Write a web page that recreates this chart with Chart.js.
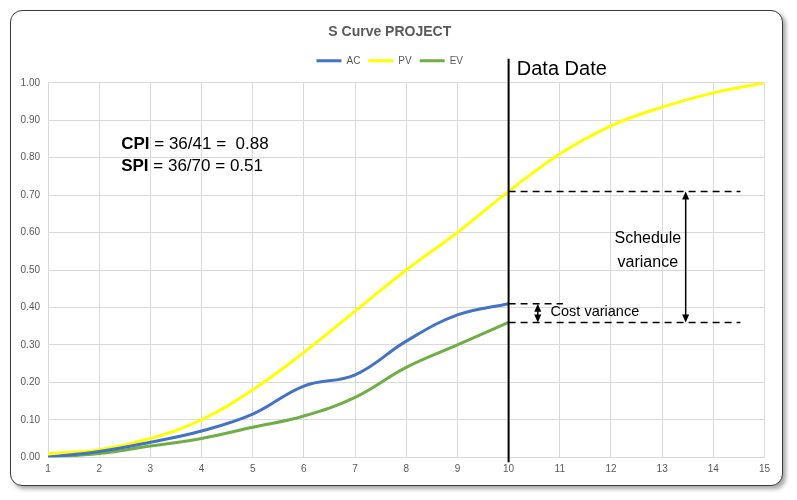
<!DOCTYPE html>
<html>
<head>
<meta charset="utf-8">
<script src="https://cdn.jsdelivr.net/npm/chart.js@4.4.1/dist/chart.umd.min.js"></script>
<style>
  html, body { margin: 0; padding: 0; background: #ffffff; }
  #frame {
    position: absolute; left: 10px; top: 10px; width: 773px; height: 476px;
    box-sizing: border-box; border: 1.5px solid #3a3a3a; border-radius: 12px;
    background: #ffffff; box-shadow: 3px 3px 4px rgba(0,0,0,0.35); overflow: hidden;
  }
  #wrap { position: absolute; left: 0; top: 0; width: 770px; height: 473px; }
</style>
</head>
<body>
<div id="frame"><div id="wrap"><canvas id="c"></canvas></div></div>
<script>
// ---- data ----
const categories = [1, 2, 3, 4, 5, 6, 7, 8, 9, 10, 11, 12, 13, 14, 15];
const acValues = [0.00, 0.015, 0.04, 0.07, 0.115, 0.19, 0.22, 0.31, 0.38, 0.41];
const pvValues = [0.01, 0.02, 0.05, 0.10, 0.18, 0.28, 0.39, 0.50, 0.60, 0.71, 0.81, 0.885, 0.935, 0.973, 1.00];
const evValues = [0.00, 0.01, 0.03, 0.05, 0.08, 0.11, 0.16, 0.24, 0.30, 0.36];
const seriesNames = ['AC', 'PV', 'EV'];
const dataDate = 10;
const cpiText = ['CPI', ' = 36/41 =  0.88'];
const spiText = ['SPI', ' = 36/70 = 0.51'];

const toPoints = (vals) => vals.map((v, i) => ({ x: categories[i], y: v }));
const FONT = "'Liberation Sans', Arial, sans-serif";

const annotations = {
  id: 'annotations',
  afterDatasetsDraw(chart) {
    const { ctx, chartArea } = chart;
    const xs = chart.scales.x, ys = chart.scales.y;
    const X = v => xs.getPixelForValue(v), Y = v => ys.getPixelForValue(v);
    const idx = categories.indexOf(dataDate);
    const pv = pvValues[idx], ac = acValues[idx], ev = evValues[idx];
    ctx.save();
    // Data Date line
    ctx.strokeStyle = '#000'; ctx.lineWidth = 2; ctx.setLineDash([]);
    ctx.beginPath(); ctx.moveTo(X(dataDate), chartArea.bottom + 5); ctx.lineTo(X(dataDate), chartArea.top - 24); ctx.stroke();
    // dashed lines
    ctx.lineWidth = 1.5; ctx.setLineDash([7, 5]);
    const dash = (x1, x2, y) => { ctx.beginPath(); ctx.moveTo(X(x1), Y(y)); ctx.lineTo(X(x2), Y(y)); ctx.stroke(); };
    dash(dataDate, 14.53, pv);
    dash(dataDate, 11.06, ac);
    dash(dataDate, 14.53, ev);
    ctx.setLineDash([]);
    // arrows
    const arrow = (x, y1, y2) => {
      const px = X(x), a = Y(y1), b = Y(y2);
      ctx.lineWidth = 1.5;
      ctx.beginPath(); ctx.moveTo(px, a + 2); ctx.lineTo(px, b - 2); ctx.stroke();
      ctx.fillStyle = '#000';
      ctx.beginPath(); ctx.moveTo(px, a); ctx.lineTo(px - 3.5, a + 8); ctx.lineTo(px + 3.5, a + 8); ctx.closePath(); ctx.fill();
      ctx.beginPath(); ctx.moveTo(px, b); ctx.lineTo(px - 3.5, b - 8); ctx.lineTo(px + 3.5, b - 8); ctx.closePath(); ctx.fill();
    };
    arrow(13.46, pv, ev);
    arrow(10.57, ac, ev);
    // texts
    ctx.fillStyle = '#000'; ctx.textBaseline = 'middle';
    ctx.font = '20px ' + FONT; ctx.textAlign = 'left';
    ctx.fillText('Data Date', X(10.16), Y(1.036));
    ctx.font = '16px ' + FONT; ctx.textAlign = 'center';
    ctx.fillText('Schedule', X(12.72), Y(0.583));
    ctx.fillText('variance', X(12.72), Y(0.521));
    ctx.font = '14.5px ' + FONT; ctx.textAlign = 'left';
    ctx.fillText('Cost variance', X(10.82), Y(0.387));
    const drawIdx = (parts, x, y) => {
      ctx.textAlign = 'left';
      ctx.font = 'bold 17px ' + FONT;
      ctx.fillText(parts[0], X(x), Y(y));
      const w = ctx.measureText(parts[0]).width;
      ctx.font = '17px ' + FONT;
      ctx.fillText(parts[1], X(x) + w, Y(y));
    };
    drawIdx(cpiText, 2.43, 0.837);
    drawIdx(spiText, 2.43, 0.776);
    ctx.restore();
  }
};

const legendSpacer = {
  id: 'legendSpacer',
  beforeInit(chart) {
    const orig = chart.legend.fit;
    chart.legend.fit = function () { orig.bind(chart.legend)(); this.height += 7; };
  }
};

new Chart(document.getElementById('c'), {
  type: 'line',
  data: {
    datasets: [
      { label: seriesNames[0], data: toPoints(acValues), borderColor: '#4472C4', backgroundColor: '#4472C4' },
      { label: seriesNames[1], data: toPoints(pvValues), borderColor: '#FFFF00', backgroundColor: '#FFFF00' },
      { label: seriesNames[2], data: toPoints(evValues), borderColor: '#70AD47', backgroundColor: '#70AD47' }
    ]
  },
  options: {
    responsive: true, maintainAspectRatio: false, animation: false,
    devicePixelRatio: 1,
    layout: { padding: { left: 4, right: 16.5, top: 13, bottom: 2.8 } },
    elements: {
      line: { borderWidth: 3, tension: 0.4, fill: false, cubicInterpolationMode: 'default' },
      point: { radius: 0 }
    },
    plugins: {
      title: { display: true, text: 'S Curve PROJECT', color: '#595959',
        font: { family: FONT, size: 14, weight: 'bold' }, padding: { top: 0, bottom: 7 } },
      legend: {
        display: true, position: 'top',
        labels: {
          color: '#595959', font: { family: FONT, size: 10 }, boxWidth: 25, boxHeight: 3, padding: 8,
          generateLabels(chart) {
            const items = Chart.defaults.plugins.legend.labels.generateLabels(chart);
            items.forEach(it => { it.lineWidth = 0; });
            return items;
          }
        }
      },
      tooltip: { enabled: false }
    },
    scales: {
      x: {
        type: 'linear', min: 1, max: 15,
        ticks: { stepSize: 1, color: '#595959', font: { family: FONT, size: 10 }, padding: 6 },
        grid: { color: '#d9d9d9', lineWidth: 1, drawTicks: false },
        border: { color: '#d9d9d9' },
        afterFit(s) { s.height = 24; }
      },
      y: {
        min: 0, max: 1,
        ticks: { stepSize: 0.1, color: '#595959', font: { family: FONT, size: 10 }, padding: 8,
          callback: v => Number(v).toFixed(2) },
        grid: { color: '#d9d9d9', lineWidth: 1, drawTicks: false },
        border: { display: false },
        afterFit(s) { s.width = 33; }
      }
    }
  },
  plugins: [legendSpacer, annotations]
});
</script>
</body>
</html>
